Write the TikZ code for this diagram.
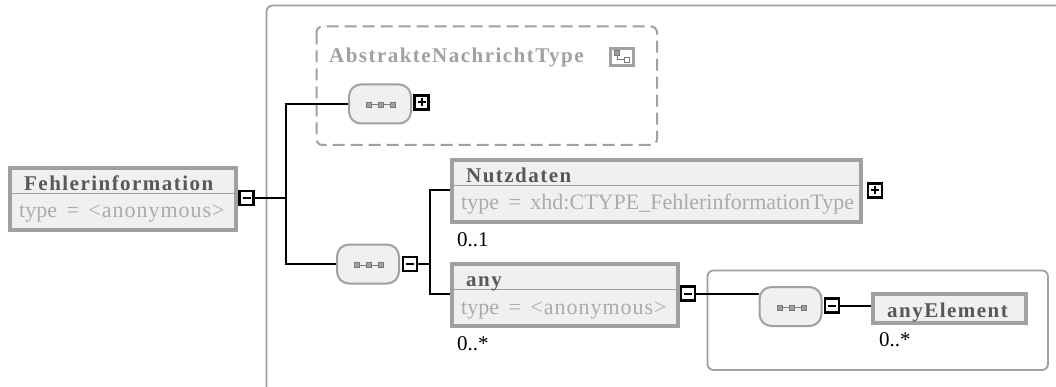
\documentclass[tikz,border=0pt]{standalone}
\usepackage{fontspec}
\setmainfont{Liberation Serif}
\newfontfamily\xsspaced[LetterSpace=7]{Liberation Serif}
\newfontfamily\xsthin[LetterSpace=4.5]{Liberation Serif}
\usetikzlibrary{calc}
\definecolor{xsgray}{HTML}{A0A0A0}
\definecolor{xsfill}{HTML}{F0F0F0}
\definecolor{xsname}{HTML}{585858}
\definecolor{xstype}{HTML}{ABABAB}
\newcommand{\xstypefont}{\fontsize{22}{24}\selectfont\spaceskip 9.5pt\relax}
\tikzset{
  elembox/.style={draw=xsgray,fill=xsfill,line width=4pt,minimum height=#1,inner sep=0pt},
  seqbox/.style={draw=xsgray,fill=xsfill,line width=2pt,rounded corners=12pt,minimum width=62pt,minimum height=39pt,inner sep=0pt},
  togglebox/.style={draw=black,fill=white,line width=2.2pt,minimum size=14pt,inner sep=0pt},
  iconsquare/.style={draw=xsname!80,line width=1pt,minimum size=5pt,inner sep=0pt},
  namelabel/.style={anchor=base west,inner sep=0pt,text=xsname,font=\xsspaced\bfseries\fontsize{21}{24}\selectfont},
  typelabel/.style={anchor=base west,inner sep=0pt,text=xstype,font=\xstypefont},
  occurs/.style={anchor=base west,inner sep=0pt,font=\fontsize{21}{24}\selectfont},
  conn/.style={black,line width=2pt},
  frameline/.style={draw=xsgray,line width=1.8pt,rounded corners=6pt}
}
\newcommand{\xselem}[6]{
  \node[elembox=#3-4pt,minimum width=#4-4pt] (#1) at (#2) {};
  \draw[xsgray,line width=1.5pt] ($(#1.north west)+(2,27.5)$) -- ($(#1.north east)+(-2,27.5)$);
  \node[namelabel] (#1name) at ($(#1.north west)+(16,24.5)$) {#5};
  \node[typelabel] (#1type) at ($(#1.north west)+(11,52)$) {#6};
}
\newcommand{\xsseq}[2]{
  \node[seqbox] (#1) at (#2) {};
  \draw[xsname!80,line width=1pt] ($(#1)+(-11,1)$) -- ($(#1)+(13,1)$);
  \foreach \dx in {-11,1,13}
    \node[iconsquare,fill=xsgray] at ($(#1)+(\dx,1)$) {};
}
\newcommand{\xsminus}[2]{
  \node[togglebox] (#1) at (#2) {};
  \draw[line width=2pt] ($(#1)+(-4,0)$) -- ($(#1)+(4,0)$);
}
\newcommand{\xsplus}[2]{
  \node[togglebox] (#1) at (#2) {};
  \draw[line width=2pt] ($(#1)+(-4,0)$) -- ($(#1)+(4,0)$);
  \draw[line width=2pt] ($(#1)+(0,-4)$) -- ($(#1)+(0,4)$);
}
\begin{document}
\begin{tikzpicture}[x=1pt,y=-1pt]
    \useasboundingbox (0,0) rectangle (1056,387);

    \draw[frameline] (266.5,387) -- (266.5,5.5) -- (1060,5.5);
    \draw[frameline,line width=2pt,dash pattern=on 12pt off 6pt] (316.5,26.5) rectangle (657,145);
    \draw[frameline] (707.5,270.5) rectangle (1048,370);

    \node[namelabel,text=xsgray] (abstrakt) at (329,63) {AbstrakteNachrichtType};
    \node[draw=xsgray,line width=3pt,minimum width=23pt,minimum height=17pt,inner sep=0pt] (typeicon) at (622,57) {};
    \draw[xsname!80,line width=1pt] ($(typeicon)+(-5,-4)$) |- ($(typeicon)+(5,3)$);
    \node[iconsquare,fill=xsgray] at ($(typeicon)+(-5,-4)$) {};
    \node[iconsquare,fill=white] at ($(typeicon)+(5,3)$) {};

    \xselem{fehler}{123,199}{66}{230}{Fehlerinformation}{type = {\xsthin <anonymous>}}
    \xselem{nutz}{656.5,191}{66}{413}{Nutzdaten}{type = xhd:CTYPE\_FehlerinformationType}
    \xselem{any}{565,295}{66}{230}{any}{type = {\xsthin <anonymous>}}

    \node[elembox=29pt,minimum width=153pt] (anyel) at (949.5,308.5) {};
    \node[namelabel] (anyelname) at (887,317) {anyElement};

    \xsseq{seqa}{380,104}
    \xsseq{seqb}{368,264}
    \xsseq{seqc}{790.5,306.5}

    \xsminus{fehlermin}{246.5,198}
    \xsplus{seqaplus}{421.5,102.5}
    \xsminus{seqbmin}{410,264}
    \xsplus{nutzplus}{875,190.5}
    \xsminus{anymin}{688,293.5}
    \xsminus{seqcmin}{832,305.5}

    \node[occurs] (nutzocc) at (457,247) {0..1};
    \node[occurs] (anyocc) at (457,350) {0..*};
    \node[occurs] (anyelocc) at (879,346) {0..*};

    \coordinate (trunka) at (285.5,198);
    \coordinate (trunkb) at (429.5,264);

    \draw[conn] (fehlermin.east) -- (trunka);
    \draw[conn] (seqa.west) -| (trunka) |- (seqb.west);
    \draw[conn] (seqbmin.east) -- (trunkb);
    \draw[conn] (nutz.west |- 0,190.5) -| (trunkb) |- (any.west |- 0,293.5);
    \draw[conn] (anymin.east) -- (seqc.west |- anymin);
    \draw[conn] (seqcmin.east) -- (anyel.west |- seqcmin);
\end{tikzpicture}
\end{document}
